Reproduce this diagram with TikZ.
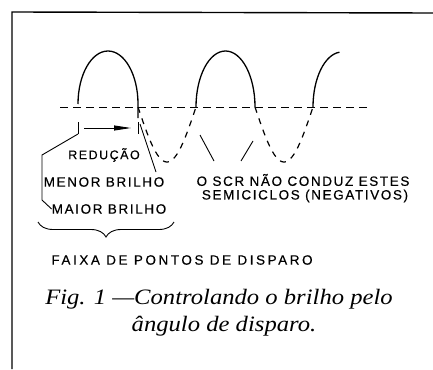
\documentclass[tikz,border=0pt]{standalone}
\usepackage{fontspec}
\setmainfont{Liberation Serif}
\newfontfamily\lblfont[LetterSpace=12,FakeBold=0.4]{Liberation Sans}
\newfontfamily\widelblfont[LetterSpace=19,FakeBold=0.4]{Liberation Sans}
\newfontfamily\captfont[FakeStretch=1.12]{Liberation Serif}
\usetikzlibrary{arrows.meta,decorations.pathreplacing}
\tikzset{
  posarc/.style={line width=1.3pt},
  negarc/.style={line width=1.2pt,dash pattern=on 6pt off 6pt},
  axisln/.style={line width=0.9pt,dash pattern=on 8pt off 5pt},
  pointln/.style={line width=0.9pt},
  frameln/.style={line width=1.4pt},
  lbl/.style={inner sep=0pt,font=\lblfont\fontsize{13.5}{15}\selectfont},
  widelbl/.style={inner sep=0pt,font=\widelblfont\fontsize{13.5}{15}\selectfont},
  capt/.style={inner sep=0pt,font=\captfont\itshape\fontsize{22}{26}\selectfont}
}

\begin{document}
\begin{tikzpicture}[x=1pt,y=-1pt]
\useasboundingbox (0,0) rectangle (433,369);
\draw[frameln] (12,369) -- (12,12) -- (433,13);
% zero line and half cycles
\coordinate (z0) at (60,107);
\coordinate (z1) at (368,107);
\draw[axisln] (z0) -- (z1);
\draw[posarc] (78,104) arc[start angle=180,end angle=360,x radius=30,y radius=53] -- (138,118);
\draw[posarc] (196,107) arc[start angle=180,end angle=360,x radius=29.5,y radius=56];
\draw[posarc] (313,107) arc[start angle=180,end angle=265,x radius=29,y radius=55];
\draw[negarc] plot[domain=138:196,samples=40] (\x,{107+55*sin((\x-138)*180/58)});
\draw[negarc] plot[domain=255:313,samples=40] (\x,{107+55*sin((\x-255)*180/58)});
% firing range
\coordinate (t0a) at (78,122); \coordinate (t0b) at (78,134);
\coordinate (t1a) at (138,122); \coordinate (t1b) at (138,134);
\draw[pointln] (t0a) -- (t0b);
\draw[pointln] (t1a) -- (t1b);
\draw[pointln,-{Triangle[length=17pt,width=5pt]}] (84,128) -- (131,128);
% labels
\node[lbl,font=\lblfont\fontsize{12.5}{14}\selectfont] (red) at (104,155) {REDUÇÃO};
\node[lbl] (menor) at (104,182) {MENOR BRILHO};
\node[lbl] (maior) at (109,209) {MAIOR BRILHO};
\node[lbl] (scr1) at (303,180) {O SCR NÃO CONDUZ ESTES};
\node[lbl] (scr2) at (305,196) {SEMICICLOS (NEGATIVOS)};
\node[widelbl] (faixa) at (182,260) {FAIXA DE PONTOS DE DISPARO};
% pointers
\coordinate (p1) at (140,124);
\coordinate (p2) at (156,172);
\draw[pointln] (p1) -- (p2);
\draw[pointln] (t0b) -- (42,155) -- (42,200) -- (maior.west);
\coordinate (n1) at (200,135);
\coordinate (n2) at (253,141);
\draw[pointln] (n1) -- (214,161);
\draw[pointln] (n2) -- (241,161);
\draw[pointln,decorate,decoration={brace,amplitude=15pt,mirror}] (38,222) -- (174,222);
% caption
\node[capt] (cap1) at (219,299) {Fig. 1 —Controlando o brilho pelo};
\node[capt] (cap2) at (224,326) {ângulo de disparo.};
\end{tikzpicture}
\end{document}
